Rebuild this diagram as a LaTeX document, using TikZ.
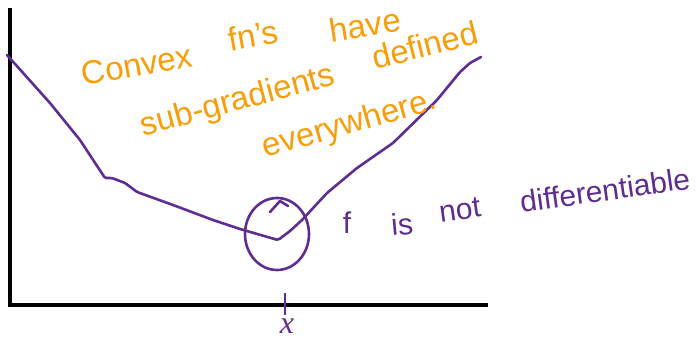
\documentclass[tikz,border=0pt]{standalone}
\usepackage{fontspec}
\setmainfont{Liberation Sans}
\newfontfamily\labelserif{Liberation Serif}
\definecolor{penorange}{RGB}{247,158,10}
\definecolor{penpurple}{RGB}{95,45,145}
\tikzset{
  axisline/.style={line width=4pt, black},
  curveline/.style={line width=2.6pt, penpurple, line cap=round, line join=round},
  orangeword/.style={text=penorange, inner sep=0pt, font=\fontsize{33}{35}\selectfont},
  purpleword/.style={text=penpurple, inner sep=0pt, font=\fontsize{30}{32}\selectfont},
}
\begin{document}
\begin{tikzpicture}[x=1pt,y=-1pt]
\useasboundingbox (0,0) rectangle (698,339);
% axes
\coordinate (top) at (10,8);
\coordinate (origin) at (10,305);
\coordinate (xend) at (488,305);
\draw[axisline] (top) -- (origin) -- (xend);
% convex curve
\draw[curveline, rounded corners=1.5pt] (7,55) -- (50,103) -- (80,140) -- (105,178)
  -- (112,178) -- (125,183) -- (137,192) -- (173,205) -- (213,220) -- (240,229)
  -- (278,240) -- (290,231) -- (302,220) -- (327,193) -- (357,168) -- (393,143)
  -- (437,100) -- (460,72) -- (470,63) -- (481,57);
% circle around the kink
\coordinate (kink) at (277,234);
\draw[curveline] (kink) ellipse [x radius=32, y radius=36];
\draw[curveline] (270,212) -- (280,201) -- (288,206);
% tick on x axis
\coordinate (tickt) at (285,293);
\coordinate (tickb) at (285,315);
\draw[line width=2.4pt, penpurple] (tickt) -- (tickb);
\node[text=penpurple, inner sep=0pt, font=\labelserif\itshape\fontsize{32}{34}\selectfont] (xlab) at (287,326) {x};
% orange text
\node[orangeword, rotate=10] (w1) at (137,65) {Convex};
\node[orangeword, rotate=10] (w2) at (253,35) {fn's};
\node[orangeword, rotate=9] (w3) at (365,25) {have};
\node[orangeword, rotate=15] (w4) at (238,102) {sub-gradients};
\node[orangeword, rotate=14] (w5) at (425,45) {defined};
\node[orangeword, rotate=16] (w6) at (350,125) {everywhere.};
% purple text
\node[purpleword] (p1) at (347,223) {f};
\node[purpleword, rotate=5] (p2) at (402,224) {is};
\node[purpleword, rotate=8] (p3) at (460,210) {not};
\node[purpleword, rotate=8] (p4) at (605,190) {differentiable};
\end{tikzpicture}
\end{document}
